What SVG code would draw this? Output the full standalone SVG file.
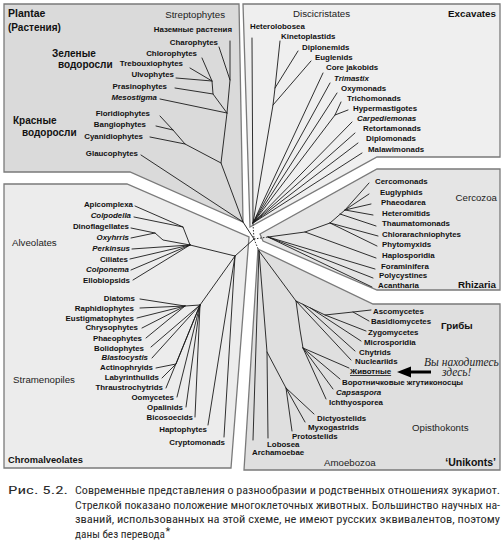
<svg xmlns="http://www.w3.org/2000/svg" width="504" height="560" viewBox="0 0 504 560">
<style>
.panel{stroke:#7a7a7a;stroke-width:1.3;stroke-linejoin:miter}
.b{font-family:"Liberation Sans",Arial,sans-serif;font-weight:bold;font-size:7.9px;fill:#111}
.i{font-style:italic}
.e{text-anchor:end}
.reg{font-family:"Liberation Sans",Arial,sans-serif;font-size:9.7px;fill:#222}
.t{font-family:"Liberation Sans",Arial,sans-serif;font-weight:bold;fill:#111}
.br{fill:none;stroke:#1a1a1a;stroke-width:0.9;stroke-linejoin:round;stroke-linecap:round}
.dot{fill:none;stroke:#1a1a1a;stroke-width:0.9;stroke-dasharray:1.5 1.5}
.cap{font-family:"Liberation Sans Narrow","Roboto Condensed",Roboto,"Liberation Sans",sans-serif;font-size:11px;fill:#2a2a2a}
.here{font-family:"Liberation Serif","Times New Roman",serif;font-style:italic;font-size:11.5px;fill:#222}
</style>
<rect width="504" height="560" fill="#ffffff"/>

<g id="plantae">
<polygon class="panel" fill="#dadada" points="4,4 239,4 243,222 130,172 4,172"/>
<text class="t" x="8" y="17" font-size="10.5">Plantae</text>
<text class="t" x="8" y="30.5" font-size="10">(Растения)</text>
<text class="reg e" x="225" y="17.5">Streptophytes</text>
<text class="t" x="52" y="56.5" font-size="10">Зеленые</text>
<text class="t" x="58" y="67.8" font-size="10">водоросли</text>
<text class="t" x="13" y="123.5" font-size="10">Красные</text>
<text class="t" x="22" y="135.5" font-size="10">водоросли</text>
<text class="b e" x="232" y="31.8">Наземные растения</text>
<text class="b e" x="218" y="44.8">Charophytes</text>
<text class="b e" x="197" y="55.8">Chlorophytes</text>
<text class="b e" x="183" y="65.8">Trebouxiophytes</text>
<text class="b e" x="174" y="76.8">Ulvophytes</text>
<text class="b e" x="167" y="88.8">Prasinophytes</text>
<text class="b e i" x="157" y="99.8">Mesostigma</text>
<text class="b e" x="150" y="115.8">Floridiophytes</text>
<text class="b e" x="146" y="126.8">Bangiophytes</text>
<text class="b e" x="143" y="138.8">Cyanidiophytes</text>
<text class="b e" x="138" y="155.8">Glaucophytes</text>
</g>

<g id="excavates">
<polygon class="panel" fill="#efefef" points="243,4 500,4 500,157 377,157 250,227"/>
<text class="reg" x="293" y="16.5">Discicristates</text>
<text class="t e" x="496" y="16.5" font-size="9.8">Excavates</text>
<text class="b" x="250" y="28.8">Heterolobosea</text>
<text class="b" x="281" y="38.8">Kinetoplastids</text>
<text class="b" x="302" y="49.5">Diplonemids</text>
<text class="b" x="315" y="59.5">Euglenids</text>
<text class="b" x="326" y="69.5">Core jakobids</text>
<text class="b i" x="334" y="80.5">Trimastix</text>
<text class="b" x="341" y="90.5">Oxymonads</text>
<text class="b" x="347" y="100.5">Trichomonads</text>
<text class="b" x="353" y="110.5">Hypermastigotes</text>
<text class="b i" x="357" y="120.5">Carpediemonas</text>
<text class="b" x="363" y="131">Retortamonads</text>
<text class="b" x="366" y="141">Diplomonads</text>
<text class="b" x="368" y="151.8">Malawimonads</text>
</g>

<g id="rhizaria">
<polygon class="panel" fill="#e5e5e5" points="377,169 500,169 500,290 377,290 263,241 260,234"/>
<text class="reg e" x="497" y="200.5">Cercozoa</text>
<text class="t e" x="496" y="288" font-size="9.8">Rhizaria</text>
<text class="b" x="375" y="183.5">Cercomonads</text>
<text class="b" x="380" y="194.5">Euglyphids</text>
<text class="b" x="381" y="205">Phaeodarea</text>
<text class="b" x="382" y="215.5">Heteromitids</text>
<text class="b" x="382" y="226">Thaumatomonads</text>
<text class="b" x="382" y="236.8">Chlorarachniophytes</text>
<text class="b" x="382" y="246.8">Phytomyxids</text>
<text class="b" x="382" y="257.8">Haplosporidia</text>
<text class="b" x="381" y="268.8">Foraminifera</text>
<text class="b" x="379" y="278">Polycystines</text>
<text class="b" x="378" y="288">Acantharia</text>
</g>

<g id="unikonts">
<polygon class="panel" fill="#dfdfdf" points="258,249 373,304 500,304 500,470 244,470"/>
<text class="t" x="441" y="328.5" font-size="9.8">Грибы</text>
<text class="reg" x="412" y="430.5">Opisthokonts</text>
<text class="reg" x="324" y="465.5">Amoebozoa</text>
<text class="t e" x="496" y="465.5" font-size="10.5">‘Unikonts’</text>
<text class="b" x="373" y="313.8">Ascomycetes</text>
<text class="b" x="371" y="323.8">Basidiomycetes</text>
<text class="b" x="368" y="334.5">Zygomycetes</text>
<text class="b" x="364" y="344.5">Microsporidia</text>
<text class="b" x="359" y="354.5">Chytrids</text>
<text class="b" x="355" y="364">Nucleariids</text>
<text class="b" x="350" y="374" text-decoration="underline">Животные</text>
<text class="b" x="342" y="385">Воротничковые жгутиконосцы</text>
<text class="b i" x="336" y="395">Capsaspora</text>
<text class="b" x="329" y="405">Ichthyosporea</text>
<text class="b" x="317" y="420.8">Dictyostelids</text>
<text class="b" x="308" y="429.8">Myxogastrids</text>
<text class="b" x="292" y="438.8">Protostelids</text>
<text class="b" x="267" y="446.8">Lobosea</text>
<text class="b" x="252" y="455">Archamoebae</text>
<text class="here" x="424" y="365.5">Вы находитесь</text>
<text class="here" x="442" y="376">здесь!</text>
<polygon fill="#000" points="397,372 411,366.5 411,377.5"/>
<rect x="410" y="370.5" width="21" height="3" fill="#000"/>
</g>

<g id="chromalveolates">
<polygon class="panel" fill="#ececec" points="4,184 127,184 249,237 231,468 4,468"/>
<text class="reg" x="12" y="245.5">Alveolates</text>
<text class="reg" x="13" y="382.5">Stramenopiles</text>
<text class="t" x="8" y="462.5" font-size="9.3">Chromalveolates</text>
<text class="b e" x="133" y="206.8">Apicomplexa</text>
<text class="b e i" x="131" y="217.8">Colpodella</text>
<text class="b e" x="129" y="228.8">Dinoflagellates</text>
<text class="b e i" x="129" y="239.5">Oxyhrris</text>
<text class="b e i" x="130" y="250.5">Perkinsus</text>
<text class="b e" x="128" y="261.5">Ciliates</text>
<text class="b e i" x="129" y="272">Colponema</text>
<text class="b e" x="130" y="282.8">Ellobiopsids</text>
<text class="b e" x="135" y="301">Diatoms</text>
<text class="b e" x="134" y="311">Raphidiophytes</text>
<text class="b e" x="134" y="320.5">Eustigmatophytes</text>
<text class="b e" x="138" y="330">Chrysophytes</text>
<text class="b e" x="142" y="340.5">Phaeophytes</text>
<text class="b e" x="144" y="350.5">Bolidophytes</text>
<text class="b e i" x="148" y="360">Blastocystis</text>
<text class="b e" x="153" y="370">Actinophryids</text>
<text class="b e" x="159" y="380">Labyrinthulids</text>
<text class="b e" x="163" y="390">Thraustrochytrids</text>
<text class="b e" x="174" y="400">Oomycetes</text>
<text class="b e" x="183" y="409.5">Opalinids</text>
<text class="b e" x="193" y="419.5">Bicosoecids</text>
<text class="b e" x="207" y="432">Haptophytes</text>
<text class="b e" x="225" y="444.5">Cryptomonads</text>
</g>

<g id="connectors">
<path class="br" d="M230,41 V80 L227,113 L221,163 L243,222 L254,239 M219,47 L230,80 M202,58 L212,81 L213,94 L227,113 M190,68 L212,81 M176,78 L212,81 M175,88 L213,94 M160,99 L227,113 M160,116 L173,130 L185,144 L221,163 M156,126 L173,130 M150,137 L185,144 M141,155 L243,222"/>
<path class="br" d="M252,38 L253,223 M280,41 L275,88 L273,105 L253,223 M298,51 L275,88 M311,61 L273,105 M323,73 L253,223 M330,83 L253,223 M337,93 L253,223 M341,102 L335,115 L253,223 M348,110 L335,115 M352,122 L253,223 M355,133 L253,223 M358,143 L253,223 M362,153 L253,223"/>
<path class="br" d="M268,237 L305,232 L330,223 L345,210 M369,183 L345,210 M369,194 L345,210 M371,204 L345,210 M373,215 L345,210 M376,226 L340,214 M378,236 L330,223 M377,246 L330,223 M376,258 L305,232 M375,269 L268,237 M373,278 L268,237 M372,287 L268,237"/>
<path class="br" d="M259,251 L253,440 M259,251 L267,352 L268,438 M267,352 L286,388 L292,431 M286,388 L305,422 M286,388 L314,414 M259,251 L296,301 L300,330 L303,348 M296,301 L325,315 L353,312 L371,310 M353,312 L369,321 M366,331 L325,315 M361,341 L310.5,308 M355,351 L303,304.4 M351,360 L296,301 M303,348 L349,368 M303,348 L340,379 M303,348 L333,389 M303,348 L326,399"/>
<path class="br" d="M135,206 L183,227 L190,245 L235,256 L254,239 M134,217 L183,227 M131,228 L155,233 L163,240 L190,245 M131,238 L155,233 M132,249 L190,245 M130,259 L190,245 M131,270 L190,245 M133,280 L190,245 M140,299 L185,306 L200,305 L235,256 M140,308 L185,306 M137,318 L185,306 M142,328 L185,306 M146,338 L185,306 M151,347 L200,305 M152,358 L200,305 M156,368 L176,364 L200,305 M162,378 L176,364 M166,388 L200,305 M177,397 L200,305 M186,407 L200,305 M195,417 L200,305 M208,425 L235,256 M224,437 L235,256"/>
<path class="dot" d="M253,224 L254,239 M254,239 L268,237 M254,239 L259,251"/>
</g>

<g id="caption">
<text class="cap" x="8" y="494" textLength="60" lengthAdjust="spacingAndGlyphs">Рис. 5.2.</text>
<text class="cap" x="75" y="494" textLength="425" lengthAdjust="spacingAndGlyphs">Современные представления о разнообразии и родственных отношениях эукариот.</text>
<text class="cap" x="75" y="508.5" textLength="425" lengthAdjust="spacingAndGlyphs">Стрелкой показано положение многоклеточных животных. Большинство научных на-</text>
<text class="cap" x="75" y="523" textLength="425" lengthAdjust="spacingAndGlyphs">званий, использованных на этой схеме, не имеют русских эквивалентов, поэтому</text>
<text class="cap" x="75" y="537.5" textLength="90" lengthAdjust="spacingAndGlyphs">даны без перевода</text>
<text class="cap" x="165.5" y="534.5" font-size="8">*</text>
</g>
</svg>
